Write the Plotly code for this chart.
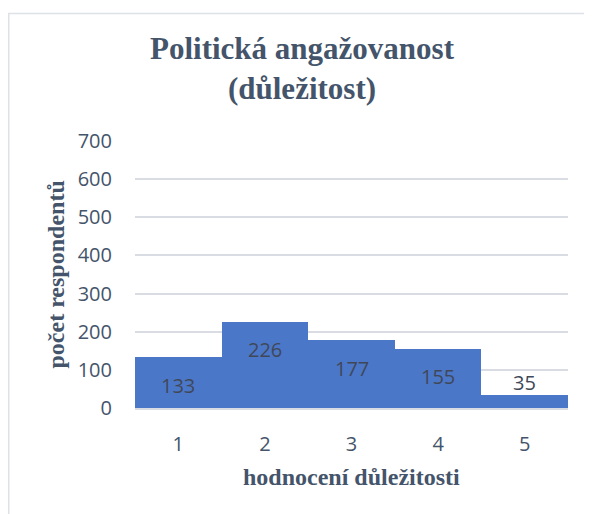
import plotly.graph_objects as go

categories = ["1", "2", "3", "4", "5"]
values = [133, 226, 177, 155, 35]
y_ticks = [0, 100, 200, 300, 400, 500, 600, 700]

# the page body adds an 8px offset; figure sized to fill the rest of the window
OFF = 8
W, H = 592 - OFF, 514 - OFF
ML, MR, MT, MB = 135 - OFF, 24, 141 - OFF, 106
PW, PH = W - ML - MR, H - MT - MB

fig = go.Figure()
fig.add_trace(go.Bar(
    x=categories, y=values,
    marker=dict(color="#4B77C9", line=dict(width=0)),
    hoverinfo="x+y",
))

ann = []
for i, v in enumerate(values):
    inside = v > 60
    ann.append(dict(
        x=i, y=v, xref="x", yref="y", text=str(v), showarrow=False,
        yanchor="middle", yshift=-28 if inside else 12,
        font=dict(family="Open Sans", size=20, color="#404858"),
    ))
ann.append(dict(
    x=0, y=0.5, xref="paper", yref="paper", text="<b>počet respondentů</b>",
    showarrow=False, textangle=-90, xanchor="center", yanchor="middle", xshift=-80,
    font=dict(family="Liberation Serif", size=24, color="#44546A"),
))
ann.append(dict(
    x=0.5, y=0, xref="paper", yref="paper", text="<b>hodnocení důležitosti</b>",
    showarrow=False, xanchor="center", yanchor="middle", yshift=-69,
    font=dict(family="Liberation Serif", size=24, color="#44546A"),
))

def px_to_paper_x(px):
    return (px - ML) / PW

def py_to_paper_y(py):
    return (H - MB - py) / PH

border = "#DEE2E8"
shapes = [
    dict(type="line", xref="paper", yref="paper",
         x0=px_to_paper_x(0.75), x1=px_to_paper_x(0.75),
         y0=py_to_paper_y(5.5), y1=py_to_paper_y(H + 2),
         line=dict(color=border, width=1.5)),
    dict(type="line", xref="paper", yref="paper",
         x0=px_to_paper_x(0), x1=px_to_paper_x(W + 2),
         y0=py_to_paper_y(5.5), y1=py_to_paper_y(5.5),
         line=dict(color=border, width=1.5)),
]

fig.update_layout(
    width=W, height=H,
    margin=dict(l=ML, r=MR, t=MT, b=MB, pad=0),
    paper_bgcolor="white", plot_bgcolor="white",
    bargap=0,
    showlegend=False,
    title=dict(
        text="<b>Politická angažovanost<br>(důležitost)</b>",
        x=(302 - OFF) / W, xanchor="center", xref="container",
        y=1 - 51 / H, yanchor="top", yref="container",
        font=dict(family="Liberation Serif", size=31, color="#44546A"),
    ),
    annotations=ann,
    shapes=shapes,
    xaxis=dict(
        showgrid=False, showline=True, linecolor="#D9DCE3", linewidth=1.5,
        ticks="", tickfont=dict(family="Open Sans", size=20, color="#44546A"),
        ticklabelstandoff=17,
    ),
    yaxis=dict(
        range=[0, 700], tickvals=y_ticks, showgrid=True,
        gridcolor="#D9DCE3", gridwidth=1.5, zeroline=False, showline=False,
        ticks="", tickfont=dict(family="Open Sans", size=20, color="#44546A"),
        ticklabelstandoff=22,
    ),
)

fig.write_html("out.html")
